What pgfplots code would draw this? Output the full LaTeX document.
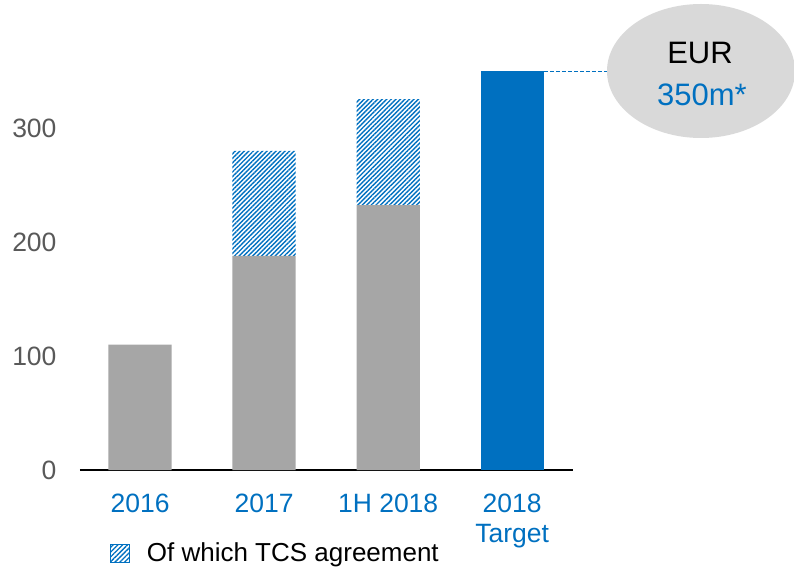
\documentclass[border=0pt]{standalone}
\usepackage{pgfplots}
\pgfplotsset{compat=1.18}
\usepackage{fontspec}
\setmainfont{Liberation Sans}
\usetikzlibrary{patterns.meta}
\definecolor{barblue}{HTML}{0070C0}
\definecolor{bargray}{HTML}{A6A6A6}
\definecolor{labgray}{HTML}{595959}
\definecolor{ellgray}{HTML}{D9D9D9}
\newcommand{\bigfont}{\fontsize{26.5bp}{30bp}\selectfont}
\newcommand{\legfont}{\fontsize{26bp}{30bp}\selectfont}
\newcommand{\ellfont}{\fontsize{31bp}{36bp}\selectfont}
\begin{document}
\begin{tikzpicture}
\path[use as bounding box] (-80bp,-111bp) rectangle (714bp,470bp);
\begin{axis}[
  scale only axis, width=493bp, height=433bp,
  xmin=-0.484, xmax=3.49, ymin=0, ymax=380,
  ybar stacked, bar width=0.51,
  axis x line*=bottom, axis y line*=left,
  y axis line style={draw=none},
  x axis line style={black, line width=1.3bp},
  xtick={0,1,2,3},
  xticklabels={2016,2017,1H 2018,{2018\\Target}},
  ytick={0,100,200,300},
  tick style={draw=none},
  /pgf/number format/assume math mode=true,
  tick label style={font=\bigfont},
  xticklabel style={align=center, text=barblue, yshift=-20bp},
  yticklabel style={text=labgray, xshift=-20bp},
  legend style={at={(0.061,-0.192)}, anchor=west, draw=none, fill=none,
    font=\legfont, inner sep=0pt},
  legend cell align=left,
  clip=false,
]
\addplot[fill=bargray, draw=none, forget plot] coordinates {(0,110) (1,188) (2,232.5) (3,0)};
\addplot[pattern={Lines[angle=45,distance=3.2bp,line width=1.4bp]}, pattern color=barblue, draw=none,
  legend image code/.code={\draw[pattern={Lines[angle=45,distance=3.4bp,line width=1.3bp]}, pattern color=barblue, draw=barblue, line width=1.2bp] (0bp,-9bp) rectangle (19bp,9bp); \path (34bp,0bp);}]
  coordinates {(0,0) (1,92) (2,93) (3,0)};
\addlegendentry{Of which TCS agreement}
\addplot[fill=barblue, draw=none, forget plot] coordinates {(0,0) (1,0) (2,0) (3,350)};
\draw[barblue, dash pattern=on 4bp off 2bp, line width=0.9bp] (axis cs:3.255,350) -- ++(70bp,0);
\end{axis}
\fill[ellgray] (621bp,399bp) ellipse [x radius=94bp, y radius=67bp];
\node[font=\ellfont, text=black] at (620bp,417bp) {EUR};
\node[font=\ellfont, text=barblue] at (622bp,375bp) {350m*};
\end{tikzpicture}
\end{document}
